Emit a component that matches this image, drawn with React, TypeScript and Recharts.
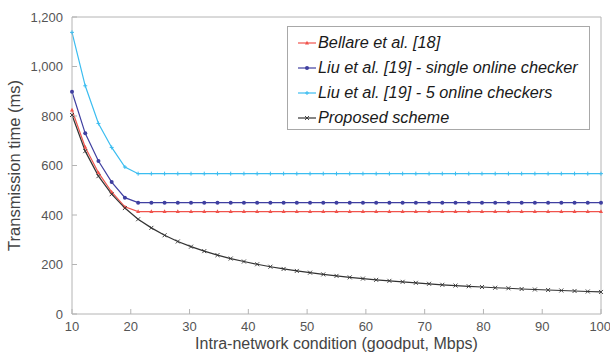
import { LineChart, Line, XAxis, YAxis, Legend, Label } from "recharts"

const goodput = [
  10, 12.25, 14.5, 16.75, 19, 21.25, 23.5, 25.75, 28, 30.25, 32.5, 34.75, 37, 39.25,
  41.5, 43.75, 46, 48.25, 50.5, 52.75, 55, 57.25, 59.5, 61.75, 64, 66.25, 68.5, 70.75,
  73, 75.25, 77.5, 79.75, 82, 84.25, 86.5, 88.75, 91, 93.25, 95.5, 97.75, 100,
]

const bellare = [
  824, 674, 571, 493, 433, 414, 414, 414, 414, 414, 414, 414, 414, 414,
  414, 414, 414, 414, 414, 414, 414, 414, 414, 414, 414, 414, 414, 414,
  414, 414, 414, 414, 414, 414, 414, 414, 414, 414, 414, 414, 414,
]

const liuSingle = [
  898, 730, 618, 533, 470, 450, 450, 450, 450, 450, 450, 450, 450, 450,
  450, 450, 450, 450, 450, 450, 450, 450, 450, 450, 450, 450, 450, 450,
  450, 450, 450, 450, 450, 450, 450, 450, 450, 450, 450, 450, 450,
]

const liuFive = [
  1138, 922, 770, 673, 594, 567, 567, 567, 567, 567, 567, 567, 567, 567,
  567, 567, 567, 567, 567, 567, 567, 567, 567, 567, 567, 567, 567, 567,
  567, 567, 567, 567, 567, 567, 567, 567, 567, 567, 567, 567, 567,
]

const proposed = [
  804, 658, 557, 484, 428, 383, 348, 318, 293, 272, 254, 238, 224, 212,
  201, 191, 182, 174, 167, 160, 154, 148, 143, 138, 134, 130, 126, 122,
  118, 115, 112, 109, 106, 104, 101, 99, 97, 95, 93, 91, 89,
]

const xTicks = [10, 20, 30, 40, 50, 60, 70, 80, 90, 100]
const yTicks = [0, 200, 400, 600, 800, 1000, 1200]

const data = goodput.map((x, i) => ({
  x,
  bellare: bellare[i],
  liuSingle: liuSingle[i],
  liuFive: liuFive[i],
  proposed: proposed[i],
}))

const FONT = '"Liberation Sans", Arial, sans-serif'
const AXIS = "#b4b4b4"

type Marker = "triangle" | "dot" | "plus" | "cross"

const series: { key: string; name: string; color: string; marker: Marker }[] = [
  { key: "bellare", name: "Bellare et al. [18]", color: "#f0534c", marker: "triangle" },
  { key: "liuSingle", name: "Liu et al. [19] - single online checker", color: "#3f3fa0", marker: "dot" },
  { key: "liuFive", name: "Liu et al. [19] - 5 online checkers", color: "#3bbdf0", marker: "plus" },
  { key: "proposed", name: "Proposed scheme", color: "#333333", marker: "cross" },
]

function markerShape(marker: Marker, cx: number, cy: number, color: string, key?: any) {
  if (marker === "triangle")
    return <path key={key} d={`M${cx},${cy - 2.2}L${cx + 2},${cy + 1.4}L${cx - 2},${cy + 1.4}Z`} fill={color} />
  if (marker === "dot") return <circle key={key} cx={cx} cy={cy} r={2} fill={color} />
  if (marker === "plus")
    return <path key={key} d={`M${cx - 2},${cy}H${cx + 2}M${cx},${cy - 2}V${cy + 2}`} stroke={color} strokeWidth={1} />
  return <path key={key} d={`M${cx - 2},${cy - 2}L${cx + 2},${cy + 2}M${cx - 2},${cy + 2}L${cx + 2},${cy - 2}`} stroke={color} strokeWidth={0.9} />
}

function LegendBox() {
  return (
    <div style={{ width: 303, height: 104, border: "1px solid #a8a8a8", background: "#fff", boxSizing: "border-box", paddingTop: 3, fontFamily: FONT }}>
      {series.map((s) => (
        <div key={s.key} style={{ display: "flex", alignItems: "center", height: 25 }}>
          <svg width={20} height={10} style={{ marginLeft: 9, marginRight: 1 }}>
            <line x1={1} y1={5} x2={19} y2={5} stroke={s.color} strokeWidth={1.2} />
            {markerShape(s.marker, 10, 5, s.color)}
          </svg>
          <span style={{ fontStyle: "italic", fontSize: 16.3, color: "#1a1a1a" }}>{s.name}</span>
        </div>
      ))}
    </div>
  )
}

export default function App() {
  return (
    <div style={{ position: "absolute", left: 0, top: 0, background: "#fff" }}>
      <LineChart width={610} height={354} data={data} margin={{ top: 16, right: 8, bottom: 0, left: 0 }}>
        <XAxis
          dataKey="x"
          type="number"
          domain={[10, 100]}
          ticks={xTicks}
          height={40}
          stroke={AXIS}
          tickSize={-5}
          tickMargin={13}
          tick={{ fill: "#555", fontSize: 13, fontFamily: FONT }}
        >
          <Label value="Intra-network condition (goodput, Mbps)" position="insideBottom" offset={5} style={{ fill: "#444", fontSize: 16, fontFamily: FONT }} />
        </XAxis>
        <XAxis
          xAxisId="top"
          dataKey="x"
          type="number"
          orientation="top"
          domain={[10, 100]}
          ticks={xTicks}
          height={1}
          stroke={AXIS}
          tickSize={-5}
          tick={false}
        />
        <YAxis
          type="number"
          domain={[0, 1200]}
          ticks={yTicks}
          width={72}
          stroke={AXIS}
          tickSize={-5}
          tickMargin={14}
          tickFormatter={(v: number) => v.toLocaleString("en-US")}
          tick={{ fill: "#555", fontSize: 13, fontFamily: FONT }}
        >
          <Label value="Transmission time (ms)" angle={-90} position="insideLeft" offset={14} style={{ textAnchor: "middle", fill: "#444", fontSize: 16.5, fontFamily: FONT }} />
        </YAxis>
        <YAxis
          yAxisId="right"
          type="number"
          orientation="right"
          domain={[0, 1200]}
          ticks={yTicks}
          width={1}
          stroke={AXIS}
          tickSize={-5}
          tick={false}
        />
        <Legend
          layout="vertical"
          align="center"
          verticalAlign="middle"
          wrapperStyle={{ left: 287, top: 26, width: 303 }}
          content={() => <LegendBox />}
        />
        {series.map((s) => (
          <Line
            key={s.key}
            dataKey={s.key}
            name={s.name}
            stroke={s.color}
            strokeWidth={1.2}
            isAnimationActive={false}
            dot={(p: any) => markerShape(s.marker, p.cx, p.cy, s.color, p.index)}
            activeDot={false}
          />
        ))}
      </LineChart>
    </div>
  )
}
